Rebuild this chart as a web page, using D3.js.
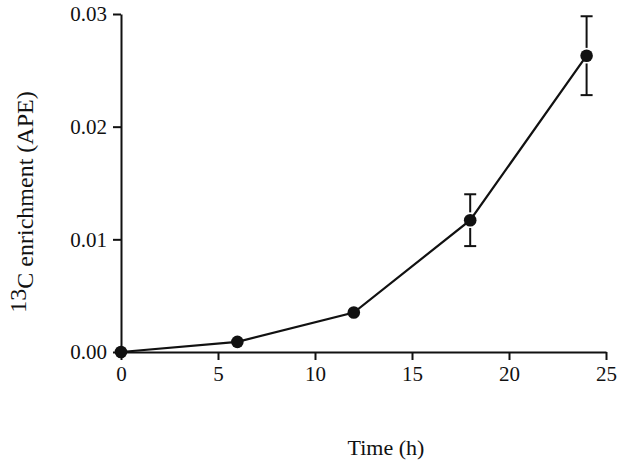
<!DOCTYPE html>
<html>
<head>
<meta charset="utf-8">
<script src="https://cdn.jsdelivr.net/npm/d3@7"></script>
<style>
  body { margin: 0; background: #fff; }
  svg text { font-family: "Liberation Serif", "Times New Roman", serif; fill: #111; }
</style>
</head>
<body>
<div id="chart"></div>
<script>
// data
const hours = [0, 6, 12, 18, 24];
const enrichment = [0, 0.0009, 0.0035, 0.0117, 0.0263];
const sem = [0, 0, 0, 0.0023, 0.0035];
const xTicks = [0, 5, 10, 15, 20, 25];
const yTicks = [0, 0.01, 0.02, 0.03];

const width = 621, height = 475;

const svg = d3.select("#chart")
    .append("svg")
    .attr("width", width)
    .attr("height", height);

const x = d3.scaleLinear().domain([0, 25]).range([121, 606]);
const y = d3.scaleLinear().domain([0, 0.03]).range([352, 14]);

const points = hours.map((h, i) => ({ h: h, v: enrichment[i], e: sem[i] }));

// x axis
const xAxis = svg.append("g")
    .attr("transform", `translate(0,${y(0)})`)
    .call(d3.axisBottom(x).tickValues(xTicks).tickSize(8).tickPadding(6).tickSizeOuter(0));

// y axis
const yAxis = svg.append("g")
    .attr("transform", `translate(${x(0)},0)`)
    .call(d3.axisLeft(y).tickValues(yTicks).tickSize(8).tickPadding(6).tickSizeOuter(0)
        .tickFormat(d3.format(".2f")));

[xAxis, yAxis].forEach(g => {
    g.select(".domain").attr("stroke", "#111").attr("stroke-width", 2);
    g.selectAll(".tick line").attr("stroke", "#111").attr("stroke-width", 2);
    g.selectAll(".tick text")
        .style("font-family", "'Liberation Serif', serif")
        .style("font-size", "21px")
        .attr("fill", "#111");
});

// error bars (with a small gap around the marker)
const r = 6.3;
const capW = 6;
const eb = svg.append("g").attr("stroke", "#111").attr("stroke-width", 2);
points.filter(d => d.e > 0).forEach(d => {
    const cx = x(d.h), cy = y(d.v);
    const top = y(d.v + d.e), bot = y(d.v - d.e);
    eb.append("line").attr("x1", cx).attr("x2", cx).attr("y1", top).attr("y2", cy - r - 1.5);
    eb.append("line").attr("x1", cx).attr("x2", cx).attr("y1", cy + r + 1.5).attr("y2", bot);
    eb.append("line").attr("x1", cx - capW).attr("x2", cx + capW).attr("y1", top).attr("y2", top);
    eb.append("line").attr("x1", cx - capW).attr("x2", cx + capW).attr("y1", bot).attr("y2", bot);
});

// line
const line = d3.line().x(d => x(d.h)).y(d => y(d.v));
svg.append("path")
    .datum(points)
    .attr("d", line)
    .attr("fill", "none")
    .attr("stroke", "#111")
    .attr("stroke-width", 2.2);

// markers
svg.selectAll("circle.pt")
    .data(points)
    .enter()
    .append("circle")
    .attr("class", "pt")
    .attr("cx", d => x(d.h))
    .attr("cy", d => y(d.v))
    .attr("r", r)
    .attr("fill", "#111");

// axis titles
svg.append("text")
    .attr("x", 386)
    .attr("y", 455)
    .attr("text-anchor", "middle")
    .style("font-size", "22px")
    .text("Time (h)");

const yl = svg.append("text")
    .attr("transform", "translate(33,202) rotate(-90)")
    .attr("text-anchor", "middle")
    .style("font-size", "24px");
yl.append("tspan").attr("dy", -7).text("13");
yl.append("tspan").attr("dy", 7).text("C enrichment (APE)");
</script>
</body>
</html>
